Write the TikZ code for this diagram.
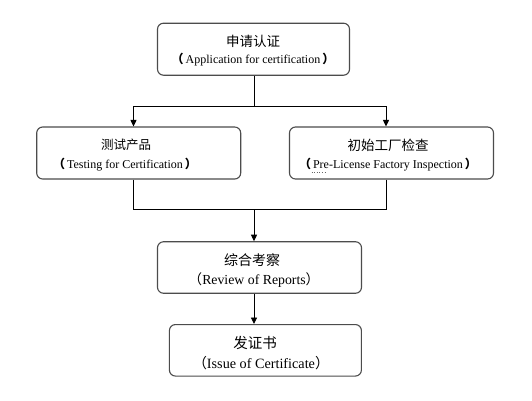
\documentclass[tikz,border=0pt]{standalone}
\usepackage{fontspec}
\setmainfont{Liberation Serif}
\newfontfamily\cjk{Noto Sans CJK SC}
\usetikzlibrary{arrows.meta}
\newcommand\lpb{{\cjk\bfseries （}}
\newcommand\rpb{{\cjk\bfseries ）}}
\newcommand\lpn{{\cjk （}}
\newcommand\rpn{{\cjk ）}}
\begin{document}
\begin{tikzpicture}[x=1pt,y=-1pt,
  box/.style={draw=black!70,line width=1.1pt,rounded corners=6pt,fill=white,inner sep=0pt},
  zh/.style={inner sep=0pt,font=\cjk\fontsize{13.5}{13.5}\selectfont},
  en/.style={inner sep=0pt,font=\fontsize{12}{12}\selectfont},
  conn/.style={draw=black,line width=0.9pt},
  arr/.style={conn,-{Triangle[length=6.5pt,width=6pt]}}]
\useasboundingbox (0,0) rectangle (532,400);
\fill[white] (0,0) rectangle (532,400);
% boxes
\node[box,minimum width=192pt,minimum height=52pt] (b1) at (253.5,49.2) {};
\node[box,minimum width=204pt,minimum height=52pt] (b2) at (138.7,153) {};
\node[box,minimum width=204pt,minimum height=52pt] (b3) at (391.5,153) {};
\node[box,minimum width=204pt,minimum height=51.5pt] (b4) at (259.5,267.5) {};
\node[box,minimum width=192pt,minimum height=51.5pt] (b5) at (265.4,350.3) {};
% texts
\node[zh] (t1a) at (253,41.5) {申请认证};
\node[en] (t1b) at (253,60) {\lpb\,Application for certification\,\rpb};
\node[zh,font=\cjk\fontsize{12.5}{12.5}\selectfont] (t2a) at (126,145) {测试产品};
\node[en] (t2b) at (125,165) {\lpb\,Testing for Certification\,\rpb};
\node[zh] (t3a) at (388,145) {初始工厂检查};
\node[en] (t3b) at (388,165) {\lpb\,Pre-License Factory Inspection\,\rpb};
\node[zh,font=\cjk\fontsize{14}{14}\selectfont] (t4a) at (252,260) {综合考察};
\node[en,font=\fontsize{13.8}{13.8}\selectfont] (t4b) at (254,280) {\lpn Review of Reports\rpn};
\node[zh,font=\cjk\fontsize{14.5}{14.5}\selectfont] (t5a) at (255,343.3) {发证书};
\node[en,font=\fontsize{14.2}{14.2}\selectfont] (t5b) at (261,363.3) {\lpn Issue of Certificate\rpn};
\draw[dotted,line width=0.6pt,black!60] (311.5,172) -- (325,172);
% coordinates
\coordinate (xl) at (133.5,0);
\coordinate (xr) at (386,0);
\coordinate (xm) at (254,0);
\coordinate (j1) at (254,106);
\coordinate (j2) at (254,209.5);
% connectors
\draw[conn] (b1.south -| xm) -- (j1);
\draw[arr] (j1) -| (b2.north -| xl);
\draw[arr] (j1) -| (b3.north -| xr);
\draw[conn] (b2.south -| xl) |- (j2);
\draw[conn] (b3.south -| xr) |- (j2);
\draw[arr] (j2) -- (b4.north -| xm);
\draw[arr] (b4.south -| xm) -- (b5.north -| xm);
\end{tikzpicture}
\end{document}
